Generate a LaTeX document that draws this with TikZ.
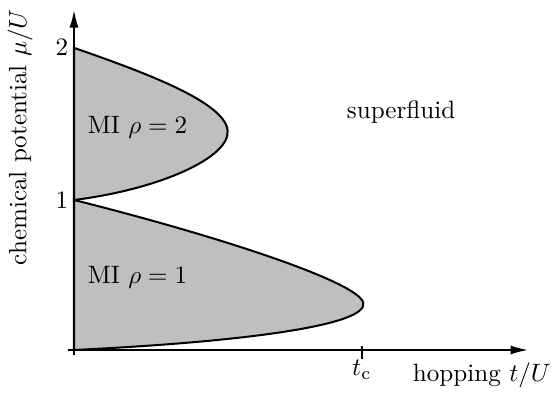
\documentclass[tikz,border=0pt]{standalone}
\usepackage{amsmath}
\usepackage{tikz}
\usetikzlibrary{arrows.meta}
\tikzset{
  axisline/.style={thick, -{Latex[length=7pt,width=3.6pt]}},
  lobe/.style={thick, fill=gray!50},
  lbl/.style={inner sep=0pt},
}

\begin{document}
\begin{tikzpicture}
  \useasboundingbox (-1.036,-0.644) rectangle (6.692,4.9);

  % Mott lobes
  \draw[lobe] (0,0) .. controls (2.5,0.12) and (4.12,0.36) .. (4.05,0.66)
              .. controls (3.99,0.95) and (2.0,1.6) .. (0,2.1) -- cycle;
  \draw[lobe] (0,2.1) .. controls (1.2,2.25) and (2.2,2.7) .. (2.15,3.08)
              .. controls (2.1,3.48) and (0.95,3.9) .. (0,4.23) -- cycle;

  % axes
  \coordinate (xs) at (-0.09,0);
  \coordinate (xe) at (6.36,0);
  \coordinate (ys) at (0,-0.07);
  \coordinate (ye) at (0,4.76);
  \draw[axisline] (xs) -- (xe);
  \draw[axisline] (ys) -- (ye);
  \draw[thick] (4.03,0.06) -- (4.03,-0.12);

  % labels
  \node[lbl] (tc) at (4.03,-0.28) {$t_\mathrm{c}$};
  \node[lbl] (xlab) at (5.71,-0.36) {hopping $t/U$};
  \node[lbl,rotate=90] (ylab) at (-0.756,2.98) {chemical potential $\mu/U$};
  \node[lbl] (one) at (-0.17,2.1) {$1$};
  \node[lbl] (two) at (-0.17,4.23) {$2$};
  \node[lbl] (mi1) at (0.89,1.01) {MI $\rho=1$};
  \node[lbl] (mi2) at (0.89,3.11) {MI $\rho=2$};
  \node[lbl] (sf) at (4.58,3.33) {superfluid};
\end{tikzpicture}
\end{document}
